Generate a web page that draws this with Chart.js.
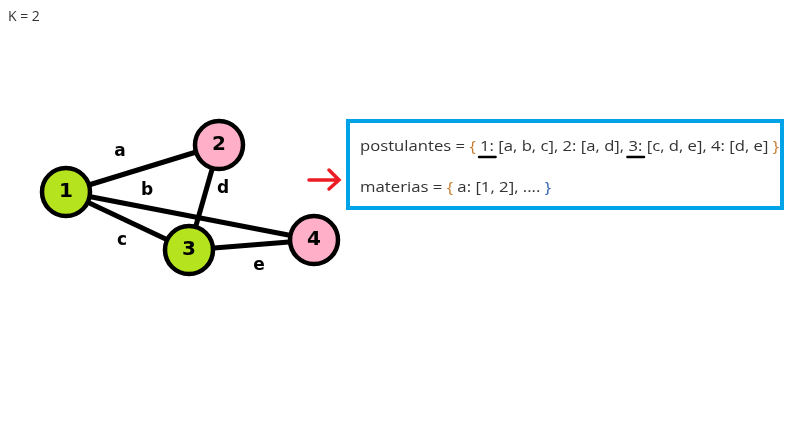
<!DOCTYPE html>
<html><head><meta charset="utf-8">
<script src="https://cdn.jsdelivr.net/npm/chart.js@4"></script>
<style>html,body{margin:0;padding:0;background:#fff}#wrap{width:800px;height:444px}</style>
</head><body><div id="wrap"><canvas id="c"></canvas></div>
<script>
// graph data
const nodeNames  = ["1", "2", "3", "4"];
const nodeX      = [66, 219, 189, 314];
const nodeY      = [192, 145, 250, 240];
const nodeColors = ["#b5e31e", "#ffb0c8", "#b5e31e", "#ffb0c8"];
const edgeNames  = ["a", "b", "c", "d", "e"];
const edgeFrom   = [0, 0, 0, 1, 2];
const edgeTo     = [1, 3, 2, 2, 3];
const edgeLabelX = [120, 147, 122, 223, 259];
const edgeLabelY = [152, 191, 241, 189, 266];
const line1 = [["postulantes = ","#333"],["{ ","#c47a2c"],["1",  "#333"],[": [a, b, c], 2: [a, d], ","#333"],["3","#333"],[": [c, d, e], 4: [d, e] ","#333"],["}","#c47a2c"]];
const line2 = [["materias = ","#333"],["{ ","#c47a2c"],["a: [1, 2], .... ","#333"],["}","#2a5db0"]];

const edgeSets = edgeNames.map((n, i) => ({
    type: "line", label: n,
    data: [{x: nodeX[edgeFrom[i]], y: nodeY[edgeFrom[i]]}, {x: nodeX[edgeTo[i]], y: nodeY[edgeTo[i]]}],
    borderColor: "#000", borderWidth: 5, pointRadius: 0, order: 2,
}));

const overlay = {
    id: "overlay",
    afterDatasetsDraw(chart) {
        const {ctx, scales: {x, y}} = chart;
        ctx.save();
        ctx.textAlign = "center"; ctx.textBaseline = "middle";
        ctx.fillStyle = "#000";
        ctx.font = "bold 20px 'Comic Sans MS', 'DejaVu Sans'";
        nodeNames.forEach((n, i) => ctx.fillText(n, x.getPixelForValue(nodeX[i]), y.getPixelForValue(nodeY[i])));
        ctx.font = "bold 17px 'DejaVu Sans'";
        edgeNames.forEach((n, i) => ctx.fillText(n, x.getPixelForValue(edgeLabelX[i]), y.getPixelForValue(edgeLabelY[i])));
        // K label
        ctx.textAlign = "left"; ctx.textBaseline = "alphabetic";
        ctx.font = "14px 'Open Sans'"; ctx.fillStyle = "#333";
        ctx.fillText("K = 2", 8, 21);
        // arrow
        ctx.strokeStyle = "#ed1c24"; ctx.lineWidth = 3.5; ctx.lineCap = "round";
        ctx.beginPath(); ctx.moveTo(309, 180); ctx.lineTo(338, 180);
        ctx.moveTo(329, 170); ctx.lineTo(339, 180); ctx.lineTo(329, 189); ctx.stroke();
        // box
        ctx.strokeStyle = "#00a2e8"; ctx.lineWidth = 4;
        ctx.strokeRect(348, 121, 434, 87);
        ctx.font = "14px 'Open Sans'";
        const drawLine = (segs, px, py, fit) => {
            const total = segs.reduce((s, [t]) => s + ctx.measureText(t).width, 0);
            const k = fit / total;
            segs.forEach(([t, c]) => {
                const w = ctx.measureText(t).width * k;
                ctx.save(); ctx.translate(px, py); ctx.scale(k, 1);
                ctx.fillStyle = c; ctx.fillText(t, 0, 0); ctx.restore();
                if (t === "1" || t === "3") {
                    ctx.strokeStyle = "#000"; ctx.lineWidth = 2.5;
                    ctx.beginPath(); ctx.moveTo(px - 1, py + 6); ctx.lineTo(px + w + 6, py + 6); ctx.stroke();
                }
                px += w;
            });
        };
        drawLine(line1, 360, 151, 419);
        drawLine(line2, 360, 192, 191);
        ctx.restore();
    }
};

new Chart(document.getElementById("c"), {
    type: "scatter",
    data: { datasets: [
        ...edgeSets,
        { label: "nodes", data: nodeX.map((v, i) => ({x: v, y: nodeY[i]})),
          pointRadius: 24, pointBackgroundColor: nodeColors, pointBorderColor: "#000",
          pointBorderWidth: 4.5, order: 1 },
    ]},
    options: {
        responsive: true, maintainAspectRatio: false, animation: false,
        layout: { padding: 0, autoPadding: false },
        scales: {
            x: { display: false, min: 0, max: 800 },
            y: { display: false, min: 0, max: 444, reverse: true },
        },
        plugins: { legend: { display: false }, tooltip: { enabled: false } },
    },
    plugins: [overlay],
});
</script></body></html>
